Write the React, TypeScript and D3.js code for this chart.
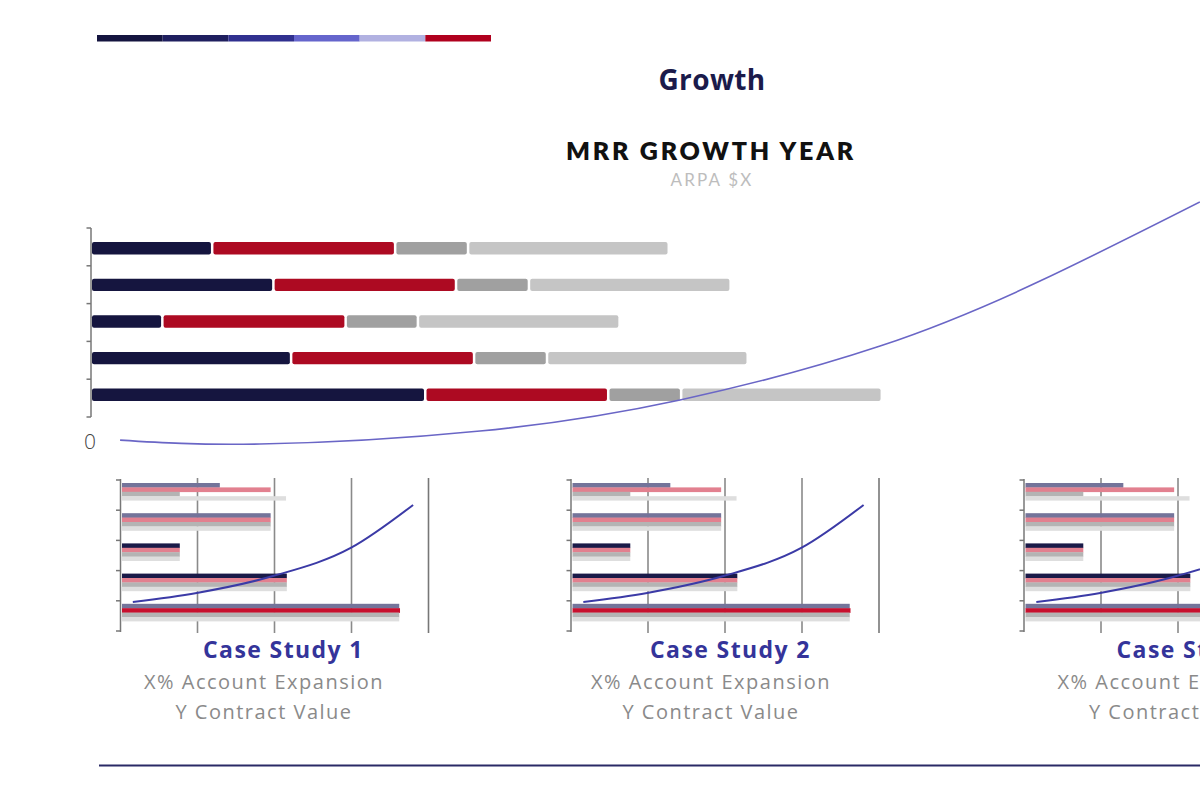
import React from "react";
import * as d3 from "d3";

// ---------- data ----------
const legendColors = ["#14143f", "#1f1f5f", "#30308f", "#6565cc", "#b1b1e1", "#b0001e"];

const rows = ["A", "B", "C", "D", "E"];
const navyValues = [36.3, 54.6, 21.4, 59.9, 100];
const redValues = [54.7, 54.6, 54.8, 54.7, 54.7];
const darkGrayValues = [21.8, 21.8, 21.6, 21.8, 21.8];
const lightGrayValues = [60.0, 60.3, 60.3, 60.0, 60.0];
const seriesColors = ["#15153f", "#ad0a22", "#a0a0a0", "#c5c5c5"];

const growthX = [8.4, 50.2, 116, 175.8, 235.6, 283.4, 331.2];
const growthY = [2.0, 0.4, 5.7, 18.4, 40.4, 66.9, 99.2];

const caseTitles = ["Case Study 1", "Case Study 2", "Case Study 3"];
const caseLine1 = "X% Account Expansion";
const caseLine2 = "Y Contract Value";
const caseTicks = [0, 1, 2, 3, 4];
// per row: navy, red, gray, light gray
const caseNavy = [1.29, 1.95, 0.77, 2.16, 3.62];
const caseRed = [1.95, 1.95, 0.77, 2.16, 3.63];
const caseGray = [0.77, 1.95, 0.77, 2.16, 3.62];
const caseLight = [2.15, 1.95, 0.77, 2.16, 3.62];
const caseHighlight = [-1, -1, 0, 0, 1];
const caseLineX = [0.16, 0.99, 1.98, 2.99, 3.8];
const caseLineY = [19.7, 25.7, 36.8, 55.3, 83.6];

// ---------- layout ----------
const W = 1200;
const H = 800;
const panelOffsets = [0, 450.5, 903.5];
const titleCenters = [283.5, 730.5, 1197];

export default function App() {
  const legendX = d3.scaleBand<number>().domain(d3.range(legendColors.length)).range([97, 491]).padding(0);

  const x = d3.scaleLinear().domain([0, 100]).range([92, 426.5]);
  const y = d3.scaleBand<string>().domain(rows).range([230, 413]).paddingInner(0.66).paddingOuter(0.33);
  const yLine = d3.scaleLinear().domain([0, 100]).range([445, 200]);
  const series = [navyValues, redValues, darkGrayValues, lightGrayValues];
  const gap = 2.5;

  const mainLine = d3
    .line<number>()
    .x((_, i) => x(growthX[i]))
    .y((d) => yLine(d))
    .curve(d3.curveNatural)(growthY);

  const mainTickYs = d3.range(6).map((i) => 228 + (i * (417 - 228)) / 5);

  const cx0 = d3.scaleLinear().domain([0, 4]).range([120.5, 428.5]);
  const cy = d3.scaleBand<string>().domain(rows).range([480, 631]);
  const cyLine = d3.scaleLinear().domain([0, 100]).range([632, 480]);
  const caseSeries = [caseNavy, caseRed, caseGray, caseLight];
  const caseBase = ["#74749a", "#e2808f", "#b4b4b4", "#dedede"];
  const caseStrong = ["#1a1a48", "#c8102e", "#b4b4b4", "#dedede"];
  const subH = 4.4;

  return (
    <svg
      width={W}
      height={H}
      style={{ position: "absolute", left: 0, top: 0, background: "#fff" }}
      fontFamily="'Open Sans', sans-serif"
    >
      <rect width={W} height={H} fill="#fff" />
      {legendColors.map((c, i) => (
        <rect key={i} x={legendX(i)} y={35} width={legendX.bandwidth()} height={6.5} fill={c} />
      ))}

      <text x={712} y={90} textAnchor="middle" fontSize={28} fontWeight={700} fill="#1b1b4b" letterSpacing={0.4}>
        Growth
      </text>
      <text
        x={711}
        y={160}
        textAnchor="middle"
        fontSize={25}
        fontWeight={800}
        fill="#111"
        letterSpacing={2.8}
        fontFamily="Lato, sans-serif"
      >
        MRR GROWTH YEAR
      </text>
      <text x={712} y={186} textAnchor="middle" fontSize={17} fill="#bdbdbd" letterSpacing={2.2} fontFamily="Lato, sans-serif">
        ARPA $X
      </text>

      <line x1={91} x2={91} y1={228} y2={417} stroke="#777" strokeWidth={1.5} />
      {mainTickYs.map((ty, i) => (
        <line key={i} x1={86.5} x2={91} y1={ty} y2={ty} stroke="#777" strokeWidth={1.5} />
      ))}
      <text x={90} y={449} textAnchor="middle" fontSize={21} fill="#444" fontWeight={300}>
        0
      </text>

      {rows.map((r, ri) => {
        let cum = 0;
        return (
          <g key={r}>
            {series.map((s, si) => {
              const v = s[ri];
              const x0 = x(cum);
              const x1 = x(cum + v) - gap;
              cum += v;
              return (
                <rect
                  key={si}
                  x={x0}
                  y={y(r)}
                  width={Math.max(0, x1 - x0)}
                  height={y.bandwidth()}
                  rx={2}
                  fill={seriesColors[si]}
                />
              );
            })}
          </g>
        );
      })}

      <path d={mainLine || ""} fill="none" stroke="#6a66c6" strokeWidth={1.6} />

      {panelOffsets.map((off, pi) => {
        const cx = (v: number) => cx0(v) + off;
        const linePath = d3
          .line<number>()
          .x((_, i) => cx(caseLineX[i]))
          .y((d) => cyLine(d))
          .curve(d3.curveMonotoneX)(caseLineY);
        const tickYs = d3.range(6).map((i) => 480 + (i * (631 - 480)) / 5);
        return (
          <g key={pi}>
            {caseTicks.slice(1).map((t) => (
              <line
                key={t}
                x1={cx(t)}
                x2={cx(t)}
                y1={478}
                y2={633}
                stroke={t === 4 ? "#777" : "#8a8a8a"}
                strokeWidth={1.6}
              />
            ))}
            <line x1={cx(0)} x2={cx(0)} y1={479} y2={632} stroke="#777" strokeWidth={1.5} />
            {tickYs.map((ty, i) => (
              <line key={i} x1={cx(0) - 4.5} x2={cx(0)} y1={ty} y2={ty} stroke="#777" strokeWidth={1.5} />
            ))}
            {rows.map((r, ri) => (
              <g key={r}>
                {caseSeries.map((s, si) => {
                  const strong = caseHighlight[ri] === si;
                  return (
                    <rect
                      key={si}
                      x={cx(0) + 1.5}
                      y={(cy(r) as number) + 3 + si * subH}
                      width={cx(s[ri]) - cx(0) - 1.5}
                      height={subH + (si === 3 ? 0 : 0.3)}
                      fill={strong ? caseStrong[si] : caseBase[si]}
                    />
                  );
                })}
              </g>
            ))}
            <path d={linePath || ""} fill="none" stroke="#3b3aa6" strokeWidth={2} />
          </g>
        );
      })}

      {caseTitles.map((t, i) => (
        <g key={t}>
          <text x={titleCenters[i]} y={658} textAnchor="middle" fontSize={23} fontWeight={700} fill="#34349a" letterSpacing={1.4}>
            {t}
          </text>
          <text x={titleCenters[i] - 19.5} y={689} textAnchor="middle" fontSize={20} fill="#8a8a8a" letterSpacing={1.5}>
            {caseLine1}
          </text>
          <text x={titleCenters[i] - 19.5} y={719} textAnchor="middle" fontSize={20} fill="#8a8a8a" letterSpacing={1.5}>
            {caseLine2}
          </text>
        </g>
      ))}

      <line x1={99} x2={1200} y1={765.5} y2={765.5} stroke="#2a2a66" strokeWidth={2} />
    </svg>
  );
}
